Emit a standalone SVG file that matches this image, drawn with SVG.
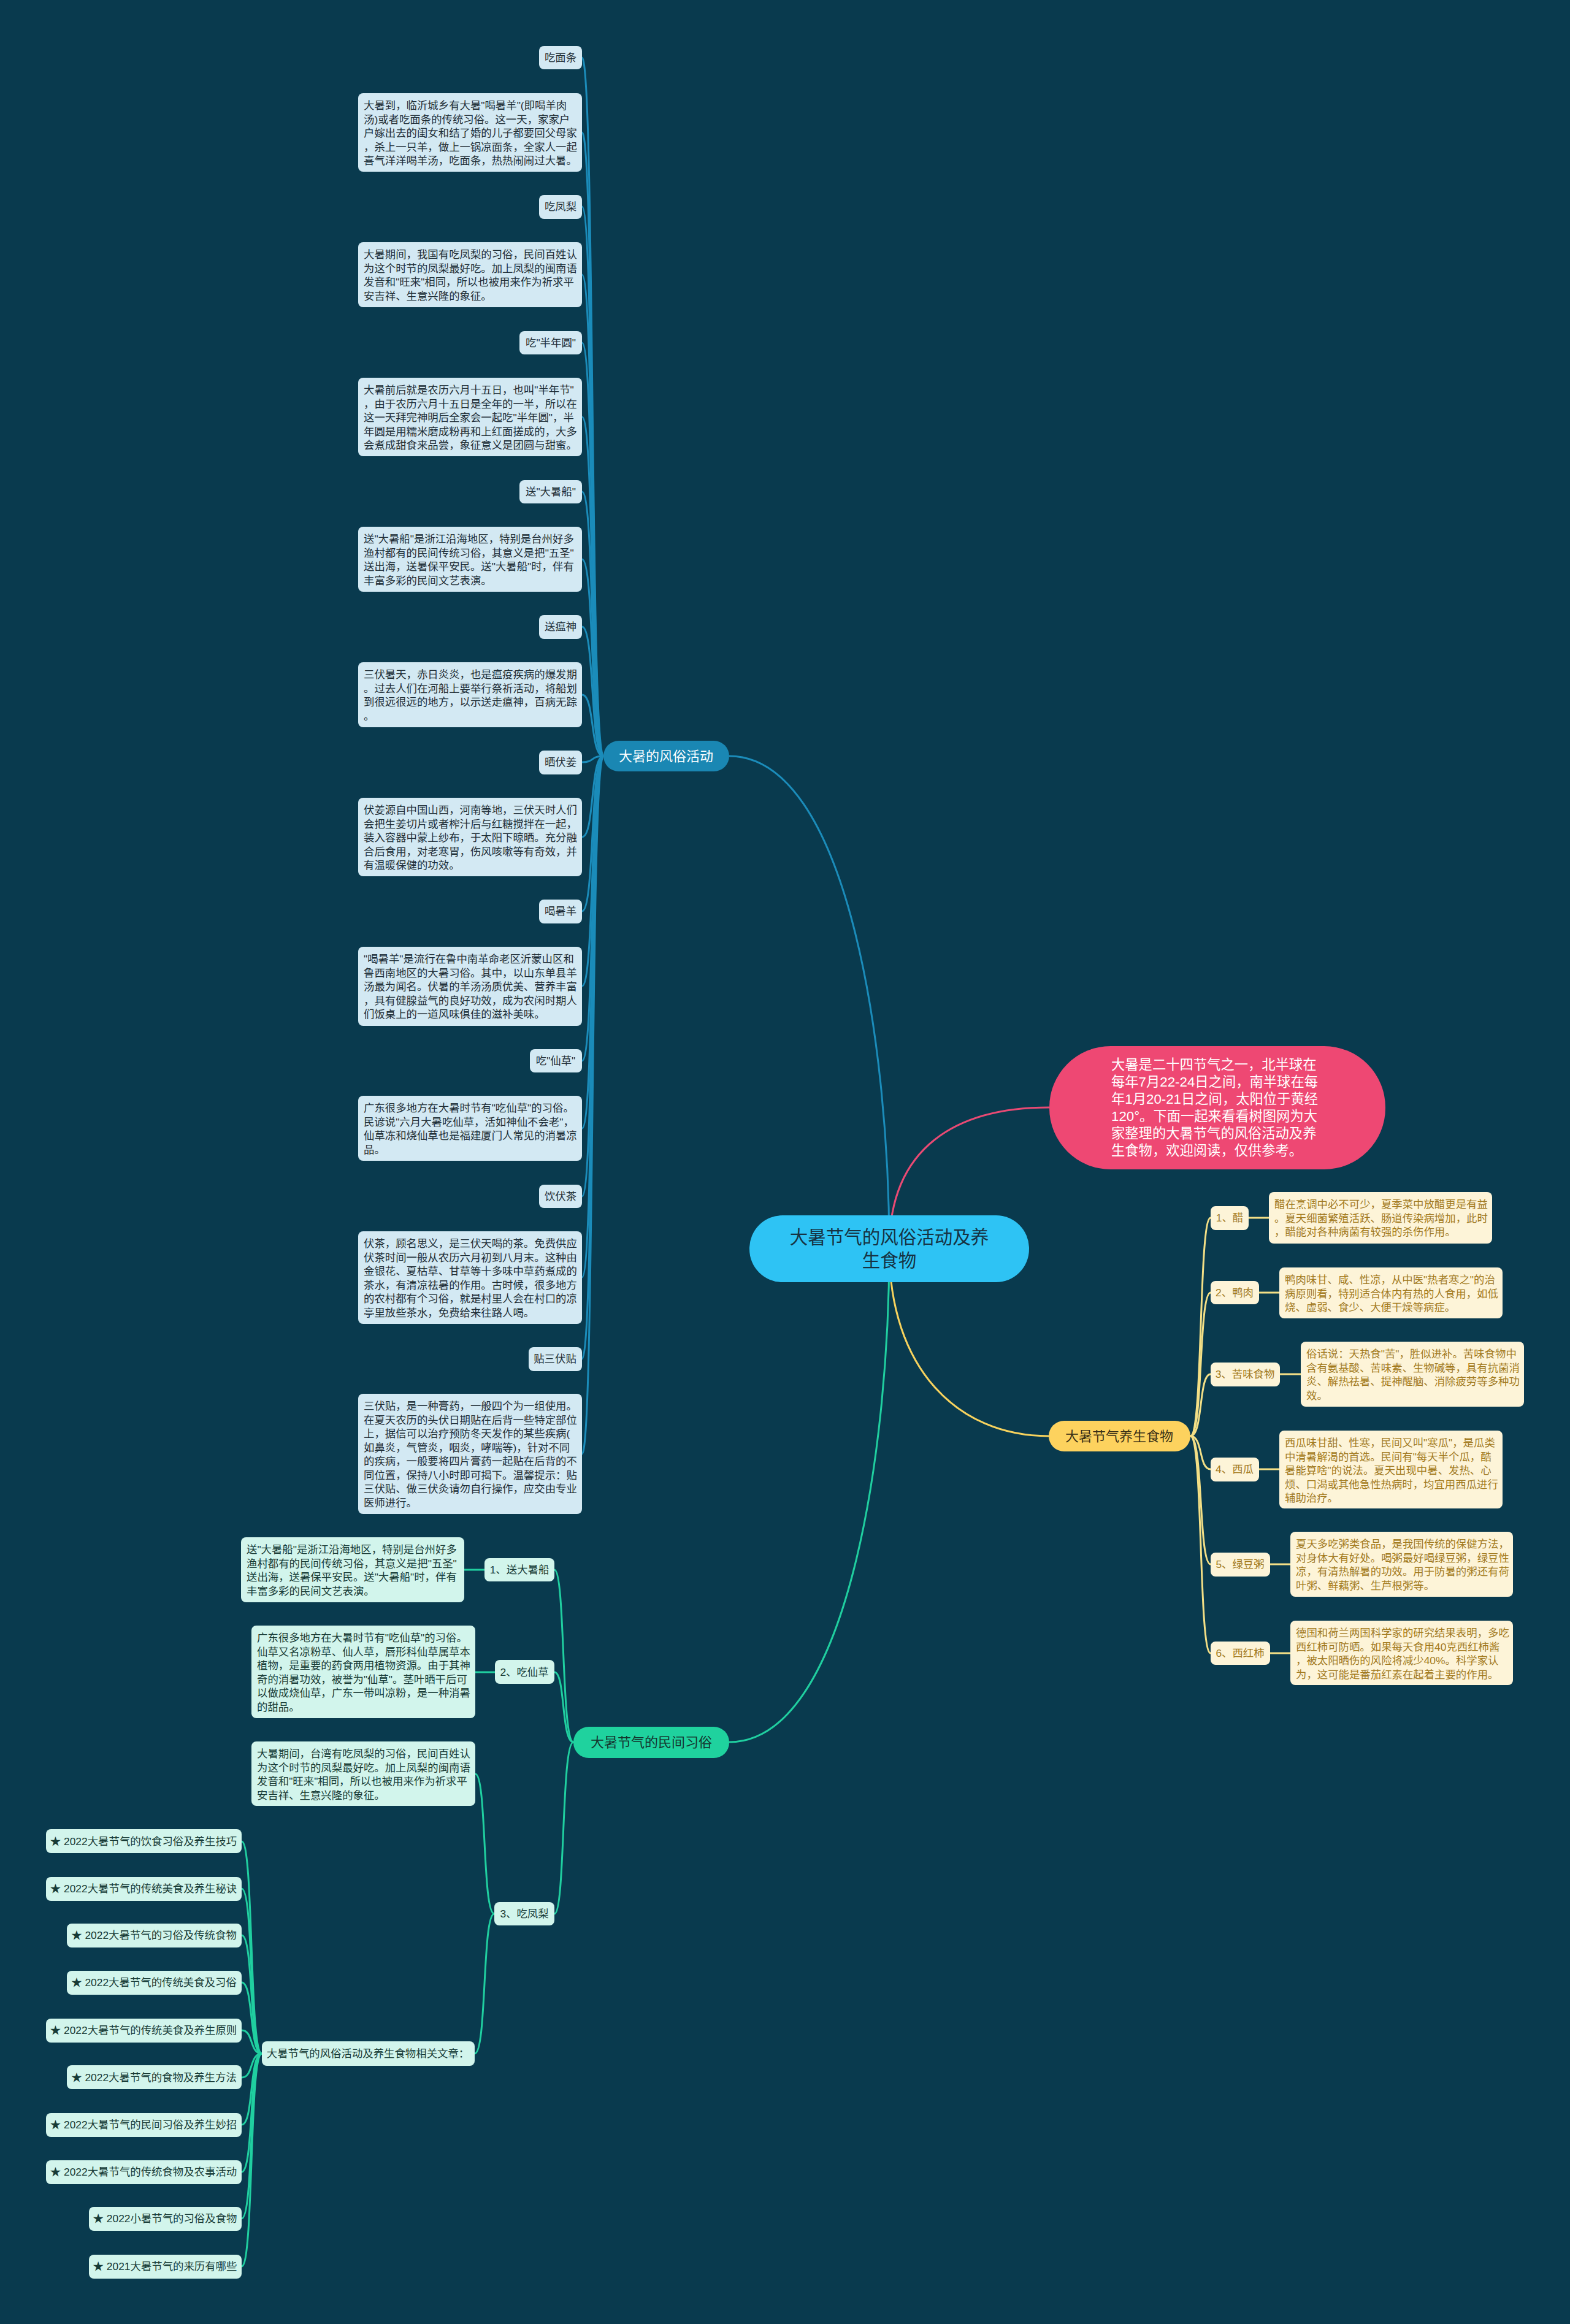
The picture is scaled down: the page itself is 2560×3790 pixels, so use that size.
<svg xmlns="http://www.w3.org/2000/svg" width="2560" height="3790" viewBox="0 0 2560 3790">
<style>
text{font-family:"Liberation Sans","Noto Sans CJK SC",sans-serif;}
.t{font-size:17.4px}
.m{text-anchor:middle}
.lb rect{fill:#D3E9F3}
.lb text{fill:#1E2D36}
.mt rect{fill:#D2F5EC}
.mt text{fill:#173A35}
.cr rect{fill:#FDF4D8}
.cr text{fill:#A27A1E}
.cb{fill:none;stroke:#1B8CBA;stroke-width:3}
.cg{fill:none;stroke:#20CFA0;stroke-width:3}
.cy{fill:none;stroke:#F3DF86;stroke-width:3}
.cyy{fill:none;stroke:#F8D35E;stroke-width:3}
.cp{fill:none;stroke:#EA4A74;stroke-width:3}
</style>
<rect width="2560" height="3790" fill="#093A4E"/>
<g id="connectors">
<path class="cb" d="M1450 2036 C1450 1700 1380 1233 1189 1233"/>
<path class="cg" d="M1450 2036 C1450 2370 1380 2841 1189 2841"/>
<path class="cp" d="M1450 2036 C1450 1870 1560 1806 1711 1806"/>
<path class="cyy" d="M1450 2036 C1450 2230 1560 2342 1710 2342"/>
<path class="cb" d="M984 1233 C962 1233 970 94 949 94"/>
<path class="cb" d="M984 1233 C962 1233 970 216 949 216"/>
<path class="cb" d="M984 1233 C962 1233 970 337 949 337"/>
<path class="cb" d="M984 1233 C962 1233 970 448 949 448"/>
<path class="cb" d="M984 1233 C962 1233 970 559 949 559"/>
<path class="cb" d="M984 1233 C962 1233 970 680 949 680"/>
<path class="cb" d="M984 1233 C962 1233 970 802 949 802"/>
<path class="cb" d="M984 1233 C962 1233 970 912 949 912"/>
<path class="cb" d="M984 1233 C962 1233 970 1022 949 1022"/>
<path class="cb" d="M984 1233 C962 1233 970 1133 949 1133"/>
<path class="cb" d="M984 1233 C962 1233 970 1243 949 1243"/>
<path class="cb" d="M984 1233 C962 1233 970 1365 949 1365"/>
<path class="cb" d="M984 1233 C962 1233 970 1486 949 1486"/>
<path class="cb" d="M984 1233 C962 1233 970 1608 949 1608"/>
<path class="cb" d="M984 1233 C962 1233 970 1730 949 1730"/>
<path class="cb" d="M984 1233 C962 1233 970 1840 949 1840"/>
<path class="cb" d="M984 1233 C962 1233 970 1951 949 1951"/>
<path class="cb" d="M984 1233 C962 1233 970 2083 949 2083"/>
<path class="cb" d="M984 1233 C962 1233 970 2216 949 2216"/>
<path class="cb" d="M984 1233 C962 1233 970 2371 949 2371"/>
<path class="cg" d="M935 2841 C915 2841 922 2560 904 2560"/>
<path class="cg" d="M935 2841 C915 2841 922 2727 904 2727"/>
<path class="cg" d="M935 2841 C915 2841 922 3121 904 3121"/>
<path class="cg" d="M757 2560 L790 2560"/>
<path class="cg" d="M775 2727 L807 2727"/>
<path class="cg" d="M806 3121 C786 3121 794 2893 775 2893"/>
<path class="cg" d="M806 3121 C786 3121 794 3349 774 3349"/>
<path class="cg" d="M427 3349 C406 3349 414 3003 394 3003"/>
<path class="cg" d="M427 3349 C406 3349 414 3080 394 3080"/>
<path class="cg" d="M427 3349 C406 3349 414 3156 394 3156"/>
<path class="cg" d="M427 3349 C406 3349 414 3233 394 3233"/>
<path class="cg" d="M427 3349 C406 3349 414 3311 394 3311"/>
<path class="cg" d="M427 3349 C406 3349 414 3388 394 3388"/>
<path class="cg" d="M427 3349 C406 3349 414 3465 394 3465"/>
<path class="cg" d="M427 3349 C406 3349 414 3542 394 3542"/>
<path class="cg" d="M427 3349 C406 3349 414 3618 394 3618"/>
<path class="cg" d="M427 3349 C406 3349 414 3696 394 3696"/>
<path class="cy" d="M1941 2342 C1962 2342 1954 1986 1974 1986"/>
<path class="cy" d="M1941 2342 C1962 2342 1954 2108 1974 2108"/>
<path class="cy" d="M1941 2342 C1962 2342 1954 2241 1974 2241"/>
<path class="cy" d="M1941 2342 C1962 2342 1954 2396 1974 2396"/>
<path class="cy" d="M1941 2342 C1962 2342 1954 2551 1974 2551"/>
<path class="cy" d="M1941 2342 C1962 2342 1954 2696 1974 2696"/>
<path class="cy" d="M2036 1986 L2069 1986"/>
<path class="cy" d="M2053 2108 L2086 2108"/>
<path class="cy" d="M2087 2241 L2121 2241"/>
<path class="cy" d="M2053 2396 L2086 2396"/>
<path class="cy" d="M2071 2551 L2104 2551"/>
<path class="cy" d="M2071 2696 L2104 2696"/>
</g>

<g id="center">
<rect x="1222" y="1982" width="456" height="109" rx="54" fill="#2EC3F4"/>
<text x="1450" y="2028" class="m" font-size="29.5" fill="#163242">大暑节气的风俗活动及养</text>
<text x="1450" y="2066" class="m" font-size="29.5" fill="#163242">生食物</text>
</g>

<g id="intro">
<rect x="1711" y="1706" width="548" height="201" rx="100" fill="#EE4873"/>
<text font-size="22.3" fill="#FFFFFF"><tspan x="1812" y="1744">大暑是二十四节气之一，北半球在</tspan><tspan x="1812" dy="28">每年7月22-24日之间，南半球在每</tspan><tspan x="1812" dy="28">年1月20-21日之间，太阳位于黄经</tspan><tspan x="1812" dy="28">120°。下面一起来看看树图网为大</tspan><tspan x="1812" dy="28">家整理的大暑节气的风俗活动及养</tspan><tspan x="1812" dy="28">生食物，欢迎阅读，仅供参考。</tspan></text>
</g>

<g id="branch-customs">
<rect x="984" y="1208" width="205" height="50" rx="25" fill="#1A87B3"/>
<text x="1086" y="1241" class="m" font-size="22" fill="#FFFFFF">大暑的风俗活动</text>
</g>
<g id="branch-folk">
<rect x="935" y="2816" width="254" height="51" rx="25" fill="#1FD29E"/>
<text x="1062" y="2849" class="m" font-size="22" fill="#14362F">大暑节气的民间习俗</text>
</g>
<g id="branch-food">
<rect x="1710" y="2317" width="231" height="50" rx="25" fill="#FDD25E"/>
<text x="1825" y="2350" class="m" font-size="22" fill="#3A3016">大暑节气养生食物</text>
</g>

<!-- blue leaves -->
<g id="l-mian" class="lb"><rect x="879" y="75" width="70" height="38" rx="8"/><text x="914" y="100" class="t m">吃面条</text></g>
<g id="d-mian" class="lb"><rect x="584" y="152" width="365" height="128" rx="8"/><text class="t"><tspan x="593" y="178">大暑到，临沂城乡有大暑"喝暑羊"(即喝羊肉</tspan><tspan x="593" dy="22.5">汤)或者吃面条的传统习俗。这一天，家家户</tspan><tspan x="593" dy="22.5">户嫁出去的闺女和结了婚的儿子都要回父母家</tspan><tspan x="593" dy="22.5">，杀上一只羊，做上一锅凉面条，全家人一起</tspan><tspan x="593" dy="22.5">喜气洋洋喝羊汤，吃面条，热热闹闹过大暑。</tspan></text></g>
<g id="l-fengli" class="lb"><rect x="879" y="318" width="70" height="39" rx="8"/><text x="914" y="343" class="t m">吃凤梨</text></g>
<g id="d-fengli" class="lb"><rect x="584" y="395" width="365" height="106" rx="8"/><text class="t"><tspan x="593" y="421">大暑期间，我国有吃凤梨的习俗，民间百姓认</tspan><tspan x="593" dy="22.5">为这个时节的凤梨最好吃。加上凤梨的闽南语</tspan><tspan x="593" dy="22.5">发音和"旺来"相同，所以也被用来作为祈求平</tspan><tspan x="593" dy="22.5">安吉祥、生意兴隆的象征。</tspan></text></g>
<g id="l-bny" class="lb"><rect x="847" y="540" width="102" height="38" rx="8"/><text x="898" y="565" class="t m">吃"半年圆"</text></g>
<g id="d-bny" class="lb"><rect x="584" y="616" width="365" height="128" rx="8"/><text class="t"><tspan x="593" y="642">大暑前后就是农历六月十五日，也叫"半年节"</tspan><tspan x="593" dy="22.5">，由于农历六月十五日是全年的一半，所以在</tspan><tspan x="593" dy="22.5">这一天拜完神明后全家会一起吃"半年圆"，半</tspan><tspan x="593" dy="22.5">年圆是用糯米磨成粉再和上红面搓成的，大多</tspan><tspan x="593" dy="22.5">会煮成甜食来品尝，象征意义是团圆与甜蜜。</tspan></text></g>
<g id="l-chuan" class="lb"><rect x="847" y="783" width="102" height="38" rx="8"/><text x="898" y="808" class="t m">送"大暑船"</text></g>
<g id="d-chuan" class="lb"><rect x="584" y="859" width="365" height="106" rx="8"/><text class="t"><tspan x="593" y="885">送"大暑船"是浙江沿海地区，特别是台州好多</tspan><tspan x="593" dy="22.5">渔村都有的民间传统习俗，其意义是把"五圣"</tspan><tspan x="593" dy="22.5">送出海，送暑保平安民。送"大暑船"时，伴有</tspan><tspan x="593" dy="22.5">丰富多彩的民间文艺表演。</tspan></text></g>
<g id="l-wen" class="lb"><rect x="879" y="1003" width="70" height="39" rx="8"/><text x="914" y="1028" class="t m">送瘟神</text></g>
<g id="d-wen" class="lb"><rect x="584" y="1080" width="365" height="106" rx="8"/><text class="t"><tspan x="593" y="1106">三伏暑天，赤日炎炎，也是瘟疫疾病的爆发期</tspan><tspan x="593" dy="22.5">。过去人们在河船上要举行祭祈活动，将船划</tspan><tspan x="593" dy="22.5">到很远很远的地方，以示送走瘟神，百病无踪</tspan><tspan x="593" dy="22.5">。</tspan></text></g>
<g id="l-jiang" class="lb"><rect x="879" y="1224" width="70" height="39" rx="8"/><text x="914" y="1249" class="t m">晒伏姜</text></g>
<g id="d-jiang" class="lb"><rect x="584" y="1301" width="365" height="128" rx="8"/><text class="t"><tspan x="593" y="1327">伏姜源自中国山西，河南等地，三伏天时人们</tspan><tspan x="593" dy="22.5">会把生姜切片或者榨汁后与红糖搅拌在一起，</tspan><tspan x="593" dy="22.5">装入容器中蒙上纱布，于太阳下晾晒。充分融</tspan><tspan x="593" dy="22.5">合后食用，对老寒胃，伤风咳嗽等有奇效，并</tspan><tspan x="593" dy="22.5">有温暖保健的功效。</tspan></text></g>
<g id="l-yang" class="lb"><rect x="879" y="1467" width="70" height="39" rx="8"/><text x="914" y="1492" class="t m">喝暑羊</text></g>
<g id="d-yang" class="lb"><rect x="584" y="1544" width="365" height="129" rx="8"/><text class="t"><tspan x="593" y="1570">"喝暑羊"是流行在鲁中南革命老区沂蒙山区和</tspan><tspan x="593" dy="22.5">鲁西南地区的大暑习俗。其中，以山东单县羊</tspan><tspan x="593" dy="22.5">汤最为闻名。伏暑的羊汤汤质优美、营养丰富</tspan><tspan x="593" dy="22.5">，具有健腺益气的良好功效，成为农闲时期人</tspan><tspan x="593" dy="22.5">们饭桌上的一道风味俱佳的滋补美味。</tspan></text></g>
<g id="l-xc" class="lb"><rect x="864" y="1711" width="85" height="38" rx="8"/><text x="906" y="1736" class="t m">吃"仙草"</text></g>
<g id="d-xc" class="lb"><rect x="584" y="1787" width="365" height="106" rx="8"/><text class="t"><tspan x="593" y="1813">广东很多地方在大暑时节有"吃仙草"的习俗。</tspan><tspan x="593" dy="22.5">民谚说"六月大暑吃仙草，活如神仙不会老"，</tspan><tspan x="593" dy="22.5">仙草冻和烧仙草也是福建厦门人常见的消暑凉</tspan><tspan x="593" dy="22.5">品。</tspan></text></g>
<g id="l-cha" class="lb"><rect x="879" y="1932" width="70" height="38" rx="8"/><text x="914" y="1957" class="t m">饮伏茶</text></g>
<g id="d-cha" class="lb"><rect x="584" y="2008" width="365" height="151" rx="8"/><text class="t"><tspan x="593" y="2034">伏茶，顾名思义，是三伏天喝的茶。免费供应</tspan><tspan x="593" dy="22.5">伏茶时间一般从农历六月初到八月末。这种由</tspan><tspan x="593" dy="22.5">金银花、夏枯草、甘草等十多味中草药煮成的</tspan><tspan x="593" dy="22.5">茶水，有清凉祛暑的作用。古时候，很多地方</tspan><tspan x="593" dy="22.5">的农村都有个习俗，就是村里人会在村口的凉</tspan><tspan x="593" dy="22.5">亭里放些茶水，免费给来往路人喝。</tspan></text></g>
<g id="l-tie" class="lb"><rect x="862" y="2197" width="87" height="39" rx="8"/><text x="905" y="2222" class="t m">贴三伏贴</text></g>
<g id="d-tie" class="lb"><rect x="584" y="2273" width="365" height="196" rx="8"/><text class="t"><tspan x="593" y="2299">三伏贴，是一种膏药，一般四个为一组使用。</tspan><tspan x="593" dy="22.5">在夏天农历的头伏日期贴在后背一些特定部位</tspan><tspan x="593" dy="22.5">上，据信可以治疗预防冬天发作的某些疾病(</tspan><tspan x="593" dy="22.5">如鼻炎，气管炎，咽炎，哮喘等)，针对不同</tspan><tspan x="593" dy="22.5">的疾病，一般要将四片膏药一起贴在后背的不</tspan><tspan x="593" dy="22.5">同位置，保持八小时即可揭下。温馨提示：贴</tspan><tspan x="593" dy="22.5">三伏贴、做三伏灸请勿自行操作，应交由专业</tspan><tspan x="593" dy="22.5">医师进行。</tspan></text></g>

<!-- green leaves -->
<g id="g-1" class="mt"><rect x="790" y="2541" width="114" height="38" rx="8"/><text x="847" y="2566" class="t m">1、送大暑船</text></g>
<g id="g-1d" class="mt"><rect x="393" y="2507" width="364" height="106" rx="8"/><text class="t"><tspan x="402" y="2533">送"大暑船"是浙江沿海地区，特别是台州好多</tspan><tspan x="402" dy="22.5">渔村都有的民间传统习俗，其意义是把"五圣"</tspan><tspan x="402" dy="22.5">送出海，送暑保平安民。送"大暑船"时，伴有</tspan><tspan x="402" dy="22.5">丰富多彩的民间文艺表演。</tspan></text></g>
<g id="g-2" class="mt"><rect x="807" y="2707" width="97" height="39" rx="8"/><text x="855" y="2733" class="t m">2、吃仙草</text></g>
<g id="g-2d" class="mt"><rect x="410" y="2651" width="365" height="151" rx="8"/><text class="t"><tspan x="419" y="2677">广东很多地方在大暑时节有"吃仙草"的习俗。</tspan><tspan x="419" dy="22.5">仙草又名凉粉草、仙人草，唇形科仙草属草本</tspan><tspan x="419" dy="22.5">植物，是重要的药食两用植物资源。由于其神</tspan><tspan x="419" dy="22.5">奇的消暑功效，被誉为"仙草"。茎叶晒干后可</tspan><tspan x="419" dy="22.5">以做成烧仙草，广东一带叫凉粉，是一种消暑</tspan><tspan x="419" dy="22.5">的甜品。</tspan></text></g>
<g id="g-3" class="mt"><rect x="806" y="3102" width="98" height="38" rx="8"/><text x="855" y="3127" class="t m">3、吃凤梨</text></g>
<g id="g-3d" class="mt"><rect x="410" y="2840" width="365" height="105" rx="8"/><text class="t"><tspan x="419" y="2866">大暑期间，台湾有吃凤梨的习俗，民间百姓认</tspan><tspan x="419" dy="22.5">为这个时节的凤梨最好吃。加上凤梨的闽南语</tspan><tspan x="419" dy="22.5">发音和"旺来"相同，所以也被用来作为祈求平</tspan><tspan x="419" dy="22.5">安吉祥、生意兴隆的象征。</tspan></text></g>
<g id="g-art" class="mt"><rect x="427" y="3329" width="347" height="40" rx="8"/><text x="600" y="3355" class="t m">大暑节气的风俗活动及养生食物相关文章：</text></g>
<g id="a-1" class="mt"><rect x="75" y="2983" width="319" height="39" rx="8"/><text x="234" y="3009" class="t m">★ 2022大暑节气的饮食习俗及养生技巧</text></g>
<g id="a-2" class="mt"><rect x="75" y="3061" width="319" height="39" rx="8"/><text x="234" y="3086" class="t m">★ 2022大暑节气的传统美食及养生秘诀</text></g>
<g id="a-3" class="mt"><rect x="109" y="3137" width="285" height="39" rx="8"/><text x="251" y="3162" class="t m">★ 2022大暑节气的习俗及传统食物</text></g>
<g id="a-4" class="mt"><rect x="109" y="3214" width="285" height="39" rx="8"/><text x="251" y="3239" class="t m">★ 2022大暑节气的传统美食及习俗</text></g>
<g id="a-5" class="mt"><rect x="75" y="3292" width="319" height="39" rx="8"/><text x="234" y="3317" class="t m">★ 2022大暑节气的传统美食及养生原则</text></g>
<g id="a-6" class="mt"><rect x="109" y="3368" width="285" height="39" rx="8"/><text x="251" y="3394" class="t m">★ 2022大暑节气的食物及养生方法</text></g>
<g id="a-7" class="mt"><rect x="75" y="3446" width="319" height="39" rx="8"/><text x="234" y="3471" class="t m">★ 2022大暑节气的民间习俗及养生妙招</text></g>
<g id="a-8" class="mt"><rect x="75" y="3523" width="319" height="39" rx="8"/><text x="234" y="3548" class="t m">★ 2022大暑节气的传统食物及农事活动</text></g>
<g id="a-9" class="mt"><rect x="145" y="3599" width="249" height="39" rx="8"/><text x="269" y="3624" class="t m">★ 2022小暑节气的习俗及食物</text></g>
<g id="a-10" class="mt"><rect x="145" y="3677" width="249" height="39" rx="8"/><text x="269" y="3702" class="t m">★ 2021大暑节气的来历有哪些</text></g>

<!-- cream leaves -->
<g id="f-1" class="cr"><rect x="1974" y="1967" width="62" height="39" rx="8"/><text x="2005" y="1992" class="t m">1、醋</text></g>
<g id="f-1d" class="cr"><rect x="2069" y="1944" width="364" height="84" rx="8"/><text class="t"><tspan x="2078" y="1970">醋在烹调中必不可少，夏季菜中放醋更是有益</tspan><tspan x="2078" dy="22.5">。夏天细菌繁殖活跃、肠道传染病增加，此时</tspan><tspan x="2078" dy="22.5">，醋能对各种病菌有较强的杀伤作用。</tspan></text></g>
<g id="f-2" class="cr"><rect x="1974" y="2089" width="79" height="38" rx="8"/><text x="2013" y="2114" class="t m">2、鸭肉</text></g>
<g id="f-2d" class="cr"><rect x="2086" y="2067" width="364" height="83" rx="8"/><text class="t"><tspan x="2095" y="2093">鸭肉味甘、咸、性凉，从中医"热者寒之"的治</tspan><tspan x="2095" dy="22.5">病原则看，特别适合体内有热的人食用，如低</tspan><tspan x="2095" dy="22.5">烧、虚弱、食少、大便干燥等病症。</tspan></text></g>
<g id="f-3" class="cr"><rect x="1974" y="2222" width="113" height="39" rx="8"/><text x="2030" y="2247" class="t m">3、苦味食物</text></g>
<g id="f-3d" class="cr"><rect x="2121" y="2188" width="364" height="106" rx="8"/><text class="t"><tspan x="2130" y="2214">俗话说：天热食"苦"，胜似进补。苦味食物中</tspan><tspan x="2130" dy="22.5">含有氨基酸、苦味素、生物碱等，具有抗菌消</tspan><tspan x="2130" dy="22.5">炎、解热祛暑、提神醒脑、消除疲劳等多种功</tspan><tspan x="2130" dy="22.5">效。</tspan></text></g>
<g id="f-4" class="cr"><rect x="1974" y="2377" width="79" height="39" rx="8"/><text x="2013" y="2402" class="t m">4、西瓜</text></g>
<g id="f-4d" class="cr"><rect x="2086" y="2333" width="364" height="127" rx="8"/><text class="t"><tspan x="2095" y="2359">西瓜味甘甜、性寒，民间又叫"寒瓜"，是瓜类</tspan><tspan x="2095" dy="22.5">中清暑解渴的首选。民间有"每天半个瓜，酷</tspan><tspan x="2095" dy="22.5">暑能算啥"的说法。夏天出现中暑、发热、心</tspan><tspan x="2095" dy="22.5">烦、口渴或其他急性热病时，均宜用西瓜进行</tspan><tspan x="2095" dy="22.5">辅助治疗。</tspan></text></g>
<g id="f-5" class="cr"><rect x="1974" y="2532" width="97" height="39" rx="8"/><text x="2022" y="2557" class="t m">5、绿豆粥</text></g>
<g id="f-5d" class="cr"><rect x="2104" y="2498" width="363" height="106" rx="8"/><text class="t"><tspan x="2113" y="2524">夏天多吃粥类食品，是我国传统的保健方法，</tspan><tspan x="2113" dy="22.5">对身体大有好处。喝粥最好喝绿豆粥，绿豆性</tspan><tspan x="2113" dy="22.5">凉，有清热解暑的功效。用于防暑的粥还有荷</tspan><tspan x="2113" dy="22.5">叶粥、鲜藕粥、生芦根粥等。</tspan></text></g>
<g id="f-6" class="cr"><rect x="1974" y="2677" width="97" height="38" rx="8"/><text x="2022" y="2702" class="t m">6、西红柿</text></g>
<g id="f-6d" class="cr"><rect x="2104" y="2643" width="363" height="105" rx="8"/><text class="t"><tspan x="2113" y="2669">德国和荷兰两国科学家的研究结果表明，多吃</tspan><tspan x="2113" dy="22.5">西红柿可防晒。如果每天食用40克西红柿酱</tspan><tspan x="2113" dy="22.5">，被太阳晒伤的风险将减少40%。科学家认</tspan><tspan x="2113" dy="22.5">为，这可能是番茄红素在起着主要的作用。</tspan></text></g>
</svg>
